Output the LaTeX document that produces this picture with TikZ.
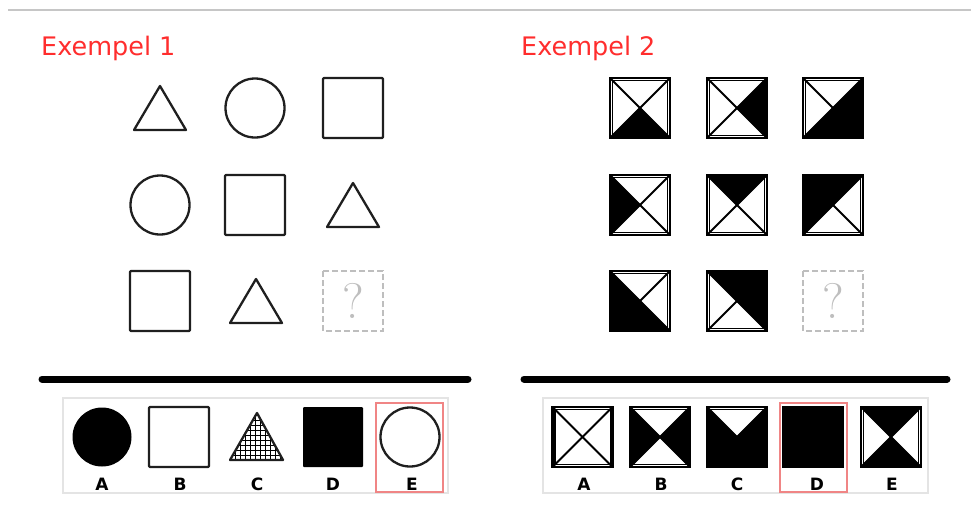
\documentclass[tikz,border=0pt]{standalone}
\usepackage{fontspec}
\newfontfamily\djv{DejaVu Sans}
\usepackage{tikz}
\definecolor{titlered}{HTML}{FF2D2D}
\definecolor{markred}{HTML}{F08585}
\definecolor{framegray}{HTML}{E4E4E4}
\definecolor{rulegray}{HTML}{C6C6C6}
\definecolor{qgray}{HTML}{BEBEBE}
\tikzstyle{title} = [text=titlered, font=\djv\fontsize{25.5}{28}\selectfont, anchor=base west, inner sep=0]
\tikzstyle{letter} = [font=\djv\bfseries\fontsize{17}{19}\selectfont, inner sep=0]
\tikzstyle{outline} = [draw=black!88, line width=2.3, line join=round]
\tikzstyle{spoke} = [line width=2]
\tikzstyle{wedge} = [fill=black, draw=black, line width=0.8, line join=round]
\tikzstyle{divider} = [line width=7, line cap=round]
\tikzstyle{answers} = [draw=framegray, line width=1.2]
\tikzstyle{chosen} = [draw=markred, line width=2]
\tikzstyle{missing} = [draw=qgray, line width=2, dash pattern=on 6pt off 3pt]
\newcommand{\tria}[1]{\draw[outline, shift={(#1)}] (-26,22) -- (0,-22) -- (26,22) -- cycle;}
\newcommand{\rnd}[1]{\draw[outline] (#1) circle (29.5pt);}
\newcommand{\sqr}[1]{\draw[outline, rounded corners=1, shift={(#1)}] (-30,-30) rectangle (30,30);}
\newcommand{\qT}{\path[wedge] (-30,-30) -- (30,-30) -- (0,0) -- cycle;}
\newcommand{\qR}{\path[wedge] (30,-30) -- (30,30) -- (0,0) -- cycle;}
\newcommand{\qB}{\path[wedge] (30,30) -- (-30,30) -- (0,0) -- cycle;}
\newcommand{\qL}{\path[wedge] (-30,30) -- (-30,-30) -- (0,0) -- cycle;}
\newcommand{\qspoke}[1]{\draw[spoke] (0,0) -- (#1);}
\newcommand{\qframe}{\draw[line width=2.2] (-30,-30) rectangle (30,30);
  \draw[line width=1.2] (-27.6,-27.6) rectangle (27.6,27.6);}
\newcommand{\qmiss}[2]{\draw[missing, shift={(#1)}] (-30,-30) rectangle (30,30);
  \node[text=qgray, font=\fontsize{50}{50}\selectfont, inner sep=0] (#2) at (#1) {?};}
\begin{document}
\begin{tikzpicture}[x=1pt, y=-1pt]
\useasboundingbox (0,0) rectangle (971,517);
\draw[rulegray, line width=2.4] (8,10) -- (971,10);

\node[title] (ex1) at (41,55.5) {Exempel 1};
\node[title] (ex2) at (521,55.5) {Exempel 2};

% example 1
\coordinate (p11) at (160,108); \coordinate (p12) at (255,108); \coordinate (p13) at (353,108);
\coordinate (p21) at (160,205); \coordinate (p22) at (255,205); \coordinate (p23) at (353,205);
\coordinate (p31) at (160,301); \coordinate (p32) at (256,301); \coordinate (p33) at (353,301);
\tria{p11} \rnd{p12} \sqr{p13}
\rnd{p21} \sqr{p22} \tria{p23}
\sqr{p31} \tria{p32} \qmiss{p33}{qm1}

\draw[divider] (42,379) -- (468,379);
\draw[answers] (63,398) rectangle (448,493);
\fill[black] (102,437) circle (29.5pt);
\sqr{179,437}
\begin{scope}
  \clip (230,460) -- (257,413) -- (283,460) -- cycle;
  \draw[line width=1] (225,405) grid[step=5pt] (290,465);
\end{scope}
\draw[outline] (230,460) -- (257,413) -- (283,460) -- cycle;
\fill[black, rounded corners=1] (303,407) rectangle (363,467);
\rnd{410,437}
\draw[chosen] (376,403) rectangle (443,492);
\node[letter] (a1) at (102,484) {A};
\node[letter] (b1) at (180,484) {B};
\node[letter] (c1) at (257,484) {C};
\node[letter] (d1) at (333,484) {D};
\node[letter] (e1) at (412,484) {E};

% example 2
\coordinate (q11) at (640,108); \coordinate (q12) at (737,108); \coordinate (q13) at (833,108);
\coordinate (q21) at (640,205); \coordinate (q22) at (737,205); \coordinate (q23) at (833,205);
\coordinate (q31) at (640,301); \coordinate (q32) at (737,301); \coordinate (q33) at (833,301);
\begin{scope}[shift={(q11)}]
  \qB \qspoke{-30,-30} \qspoke{30,-30} \qspoke{30,30} \qspoke{-30,30} \qframe
\end{scope}
\begin{scope}[shift={(q12)}]
  \qR \qspoke{-30,-30} \qspoke{30,-30} \qspoke{30,30} \qspoke{-30,30} \qframe
\end{scope}
\begin{scope}[shift={(q13)}]
  \qR \qB \qspoke{-30,-30} \qspoke{30,-30} \qspoke{-30,30} \qframe
\end{scope}
\begin{scope}[shift={(q21)}]
  \qL \qspoke{-30,-30} \qspoke{30,-30} \qspoke{30,30} \qspoke{-30,30} \qframe
\end{scope}
\begin{scope}[shift={(q22)}]
  \qT \qspoke{-30,-30} \qspoke{30,-30} \qspoke{30,30} \qspoke{-30,30} \qframe
\end{scope}
\begin{scope}[shift={(q23)}]
  \qT \qL \qspoke{30,-30} \qspoke{30,30} \qspoke{-30,30} \qframe
\end{scope}
\begin{scope}[shift={(q31)}]
  \qL \qB \qspoke{-30,-30} \qspoke{30,-30} \qspoke{30,30} \qframe
\end{scope}
\begin{scope}[shift={(q32)}]
  \qT \qR \qspoke{-30,-30} \qspoke{30,30} \qspoke{-30,30} \qframe
\end{scope}
\qmiss{q33}{qm2}

\draw[divider] (524,379) -- (947,379);
\draw[answers] (543,398) rectangle (928,493);
\begin{scope}[shift={(582.5,437)}]
  \qspoke{-30,-30} \qspoke{30,-30} \qspoke{30,30} \qspoke{-30,30} \qframe
\end{scope}
\begin{scope}[shift={(660,437)}]
  \qL \qR \qspoke{-30,-30} \qspoke{30,-30} \qspoke{30,30} \qspoke{-30,30} \qframe
\end{scope}
\begin{scope}[shift={(737,437)}]
  \qR \qB \qL \qspoke{-30,-30} \qspoke{30,-30} \qframe
\end{scope}
\begin{scope}[shift={(813,437)}]
  \qT \qR \qB \qL \qframe
\end{scope}
\begin{scope}[shift={(891,437)}]
  \qT \qB \qspoke{-30,-30} \qspoke{30,-30} \qspoke{30,30} \qspoke{-30,30} \qframe
\end{scope}
\draw[chosen] (780,403) rectangle (847,492);
\node[letter] (a2) at (584,484) {A};
\node[letter] (b2) at (661,484) {B};
\node[letter] (c2) at (737,484) {C};
\node[letter] (d2) at (817,484) {D};
\node[letter] (e2) at (892,484) {E};
\end{tikzpicture}
\end{document}
